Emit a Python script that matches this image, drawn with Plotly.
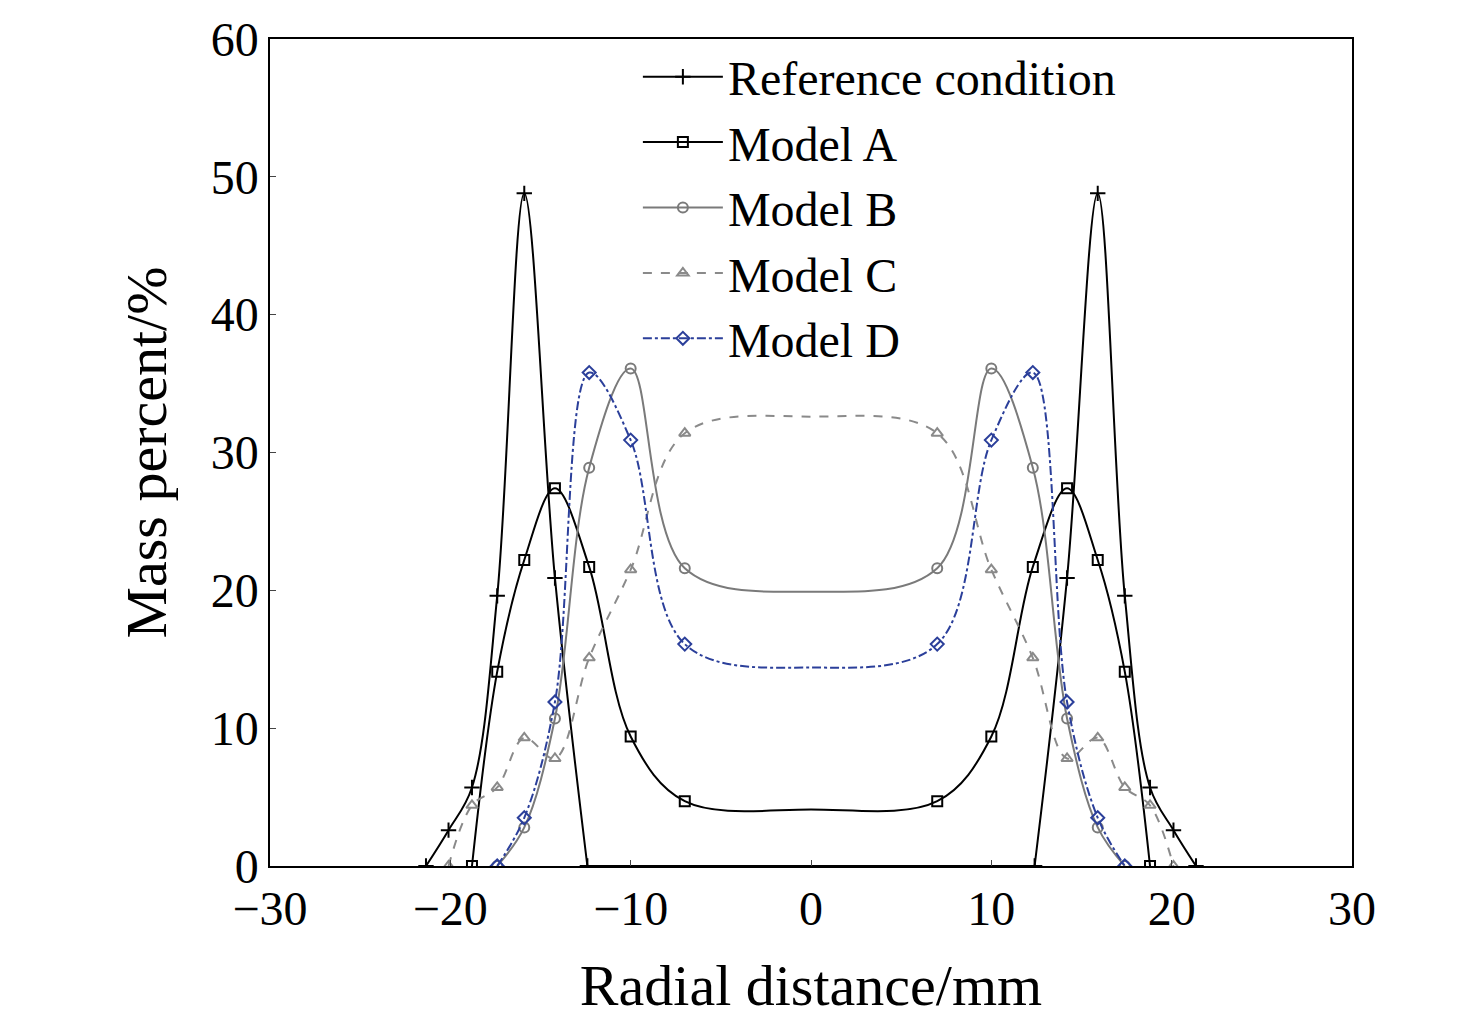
import plotly.graph_objects as go

# half-profile data (x<=0), mirrored for x>0
ref_x = [-21.35, -20.1, -18.8, -17.4, -15.9, -14.2, -12.4]
ref_y = [0, 2.6, 5.7, 19.6, 48.8, 20.9, 0]
a_x = [-18.8, -17.4, -15.9, -14.2, -12.3, -10.0, -7.0]
a_y = [0, 14.1, 22.2, 27.4, 21.7, 9.4, 4.7]
a_c = 4.1
b_x = [-17.4, -15.9, -14.2, -12.3, -10.0, -7.0]
b_y = [0, 2.8, 10.7, 28.9, 36.1, 21.6]
b_c = 19.9
c_x = [-20.1, -18.8, -17.4, -15.9, -14.2, -12.3, -10.0, -7.0]
c_y = [0, 4.4, 5.7, 9.3, 7.8, 15.1, 21.5, 31.4]
c_c = 32.6
d_x = [-17.4, -15.9, -14.2, -12.3, -10.0, -7.0]
d_y = [0, 3.5, 11.9, 35.8, 30.9, 16.1]
d_c = 14.4

names = ["Reference condition", "Model A", "Model B", "Model C", "Model D"]
blue = "#2b3f9a"
styles = [
    dict(color="black", dash="solid", symbol="cross-thin", size=11),
    dict(color="black", dash="solid", symbol="square-open", size=10),
    dict(color="#7a7a7a", dash="solid", symbol="circle-open", size=10),
    dict(color="#8a8a8a", dash="dash", symbol="triangle-up-open", size=10),
    dict(color=blue, dash="dashdot", symbol="diamond-open", size=10),
]

fig = go.Figure()

def mirror(xs, ys):
    return xs + [-v for v in xs[::-1]], ys + ys[::-1]

series = [(ref_x, ref_y, None), (a_x, a_y, a_c), (b_x, b_y, b_c), (c_x, c_y, c_c), (d_x, d_y, d_c)]
for (xs, ys, cen), nm, st in zip(series, names, styles):
    mx, my = mirror(xs, ys)
    if cen is None:
        fig.add_trace(go.Scatter(x=xs, y=ys, mode="lines", line=dict(color=st["color"], width=2, shape="spline", smoothing=1.0), showlegend=False))
        fig.add_trace(go.Scatter(x=[xs[-1], -xs[-1]], y=[0, 0], mode="lines", line=dict(color=st["color"], width=2), showlegend=False))
        fig.add_trace(go.Scatter(x=[-v for v in xs[::-1]], y=ys[::-1], mode="lines", line=dict(color=st["color"], width=2, shape="spline", smoothing=1.0), showlegend=False))
    else:
        lx = xs + [0] + [-v for v in xs[::-1]]
        ly = ys + [cen] + ys[::-1]
        fig.add_trace(go.Scatter(x=lx, y=ly, mode="lines", line=dict(color=st["color"], width=2, dash=st["dash"], shape="spline", smoothing=1.0), showlegend=False))
    fig.add_trace(go.Scatter(x=mx, y=my, mode="markers", marker=dict(symbol=st["symbol"], size=st["size"], color=st["color"], line=dict(color=st["color"], width=2)), showlegend=False))
    fig.add_trace(go.Scatter(x=[None], y=[None], name=nm, mode="lines+markers",
                             line=dict(color=st["color"], width=2, dash=st["dash"]),
                             marker=dict(symbol=st["symbol"], size=st["size"], color=st["color"], line=dict(color=st["color"], width=2))))

font = "Liberation Serif, Times New Roman, serif"
fig.update_layout(
    width=1476, height=1018, paper_bgcolor="white", plot_bgcolor="white",
    margin=dict(l=262, r=132, t=31, b=160, autoexpand=False),
    font=dict(family=font, size=48, color="black"),
    legend=dict(x=0.34, y=1.0, xanchor="left", yanchor="top", bgcolor="rgba(0,0,0,0)",
                font=dict(size=48), tracegroupgap=0, itemwidth=80),
    xaxis=dict(range=[-30, 30], dtick=10, ticks="inside", ticklen=6, showgrid=False, zeroline=False,
               showline=True, linecolor="black", linewidth=1.5, mirror=True, automargin=False,
               title=dict(text="Radial distance/mm", standoff=30), tickfont=dict(size=48)),
    yaxis=dict(range=[0, 60], dtick=10, ticks="inside", ticklen=6, showgrid=False, zeroline=False,
               showline=True, linecolor="black", linewidth=1.5, mirror=True, automargin=False,
               title=dict(text="Mass percent/%", standoff=25), tickfont=dict(size=48)),
)
fig.write_html("out.html")
